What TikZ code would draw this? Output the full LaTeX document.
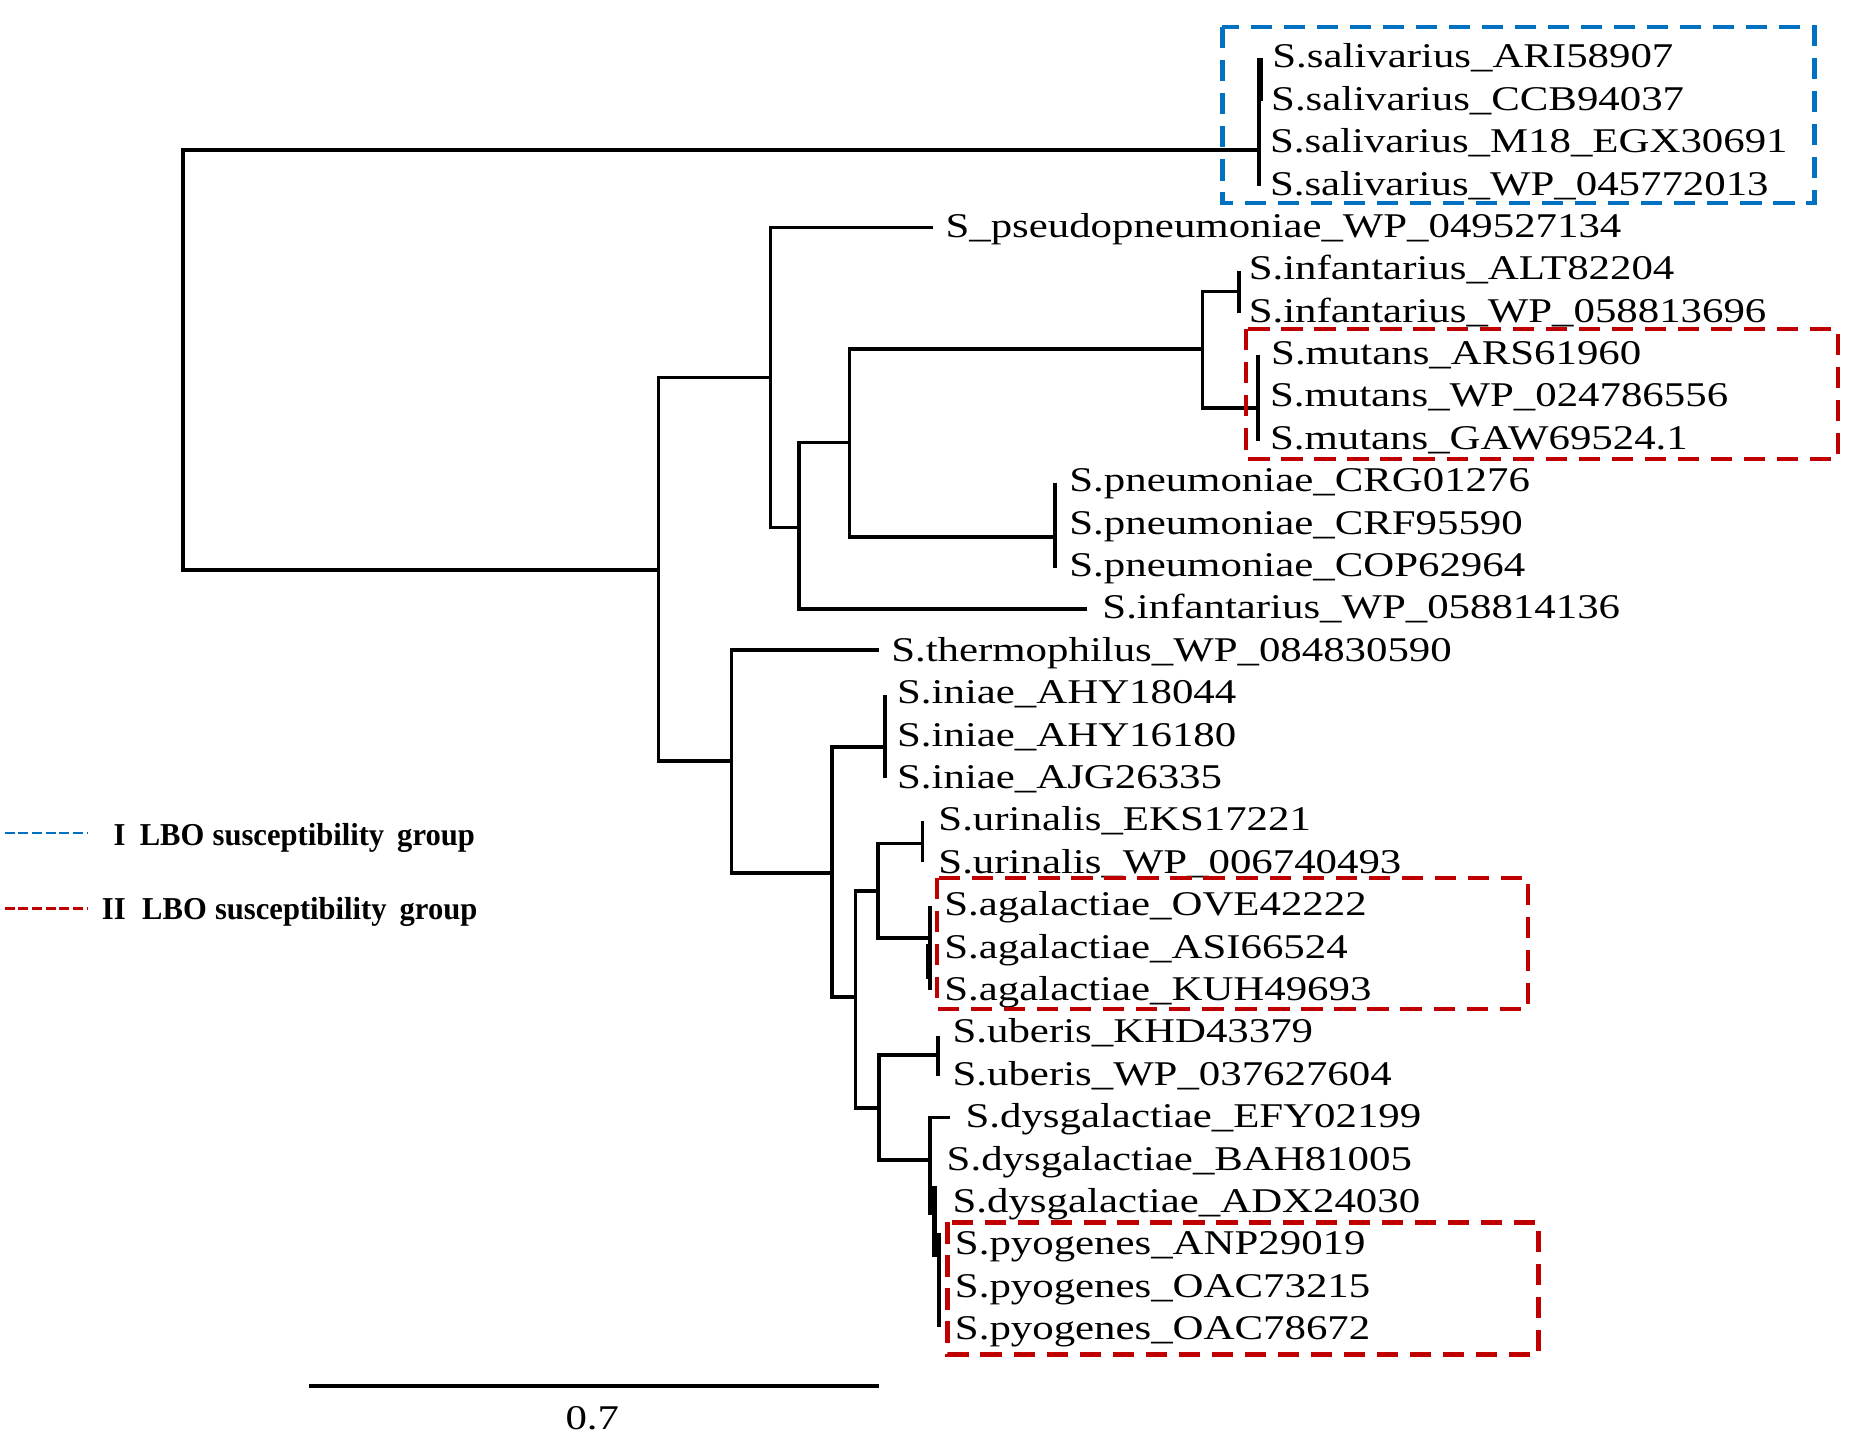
\documentclass[tikz,border=0pt]{standalone}
\usepackage{fontspec}
\newfontfamily\lblfont[FakeStretch=1.235]{Liberation Serif}
\newfontfamily\legfont[FakeStretch=0.96]{Liberation Serif}
\definecolor{grpblue}{RGB}{0,112,192}
\definecolor{grpred}{RGB}{192,0,0}
\begin{document}
\begin{tikzpicture}[x=0.5pt,y=-0.5pt,
  branch/.style={line width=1.5pt},
  leaf/.style={anchor=base west, inner sep=0pt, font=\lblfont\fontsize{14.7}{17}\selectfont},
  grpbox/.style={line width=1.9pt, dash pattern=on 9pt off 5pt},
  legline/.style={line width=1.2pt, dash pattern=on 4.2pt off 1.6pt},
  legtext/.style={anchor=base west, inner sep=0pt, font=\legfont\bfseries\fontsize{13.5}{15}\selectfont}]
\fill[white] (0,0) rectangle (1568,1218);
\useasboundingbox (0,0) rectangle (1568,1218);

% internal nodes and branch tips
\coordinate (root) at (155,305);
\coordinate (S) at (1067,127);
\coordinate (A) at (558,483);
\coordinate (B) at (653,320);
\coordinate (F) at (620,645);
\coordinate (P1) at (791,193);
\coordinate (C) at (677,447);
\coordinate (D) at (720,375);
\coordinate (T13) at (921,516);
\coordinate (E) at (1019,296);
\coordinate (PN) at (894,455);
\coordinate (INF) at (1050,247);
\coordinate (MUT) at (1066,346);
\coordinate (TH) at (745,551);
\coordinate (G) at (705,740);
\coordinate (INI) at (750,633);
\coordinate (H) at (725,845);
\coordinate (I) at (744,755);
\coordinate (J) at (745,939);
\coordinate (URI) at (782,715);
\coordinate (AGA) at (788,795);
\coordinate (UBE) at (795,894);
\coordinate (K) at (788,983);
\coordinate (EFY) at (805,947);
\coordinate (Kb) at (788,1030);

\draw[branch] (S) -| (root) |- (A);
\draw[branch] (B) -| (A) |- (F);
\draw[branch] (P1) -| (B) |- (C);
\draw[branch] (D) -| (C) |- (T13);
\draw[branch] (E) -| (D) |- (PN);
\draw[branch] (INF) -| (E) |- (MUT);
\draw[branch] (TH) -| (F) |- (G);
\draw[branch] (INI) -| (G) |- (H);
\draw[branch] (I) -| (H) |- (J);
\draw[branch] (URI) -| (I) |- (AGA);
\draw[branch] (UBE) -| (J) |- (K);
\draw[branch] (EFY) -| (K) -- (Kb);

% clade bars (near-zero branch lengths)
\draw[branch] (1067,49) -- (1067,158);
\draw[branch] (1069,49) -- (1069,86);
\draw[branch] (1050,230) -- (1050,265);
\draw[branch] (1066,301) -- (1066,374);
\draw[branch] (894,409) -- (894,481);
\draw[branch] (750,589) -- (750,659);
\draw[branch] (782,696) -- (782,731);
\draw[branch] (788,768) -- (788,839);
\draw[branch] (786,800) -- (786,830);
\draw[branch] (795,878) -- (795,912);
\draw[line width=1.9pt] (792,1005) -- (792,1065);
\draw[branch] (796,1045) -- (796,1125);

% leaf labels
\node[leaf] (l0)  at (1078,{57.5+35.93*0})  {S.salivarius\_ARI58907};
\node[leaf] (l1)  at (1077,{57.5+35.93*1})  {S.salivarius\_CCB94037};
\node[leaf] (l2)  at (1076,{57.5+35.93*2})  {S.salivarius\_M18\_EGX30691};
\node[leaf] (l3)  at (1076,{57.5+35.93*3})  {S.salivarius\_WP\_045772013};
\node[leaf] (l4)  at (801,{57.5+35.93*4})   {S\_pseudopneumoniae\_WP\_049527134};
\node[leaf] (l5)  at (1058,{57.5+35.93*5})  {S.infantarius\_ALT82204};
\node[leaf] (l6)  at (1058,{57.5+35.93*6})  {S.infantarius\_WP\_058813696};
\node[leaf] (l7)  at (1077,{57.5+35.93*7})  {S.mutans\_ARS61960};
\node[leaf] (l8)  at (1076,{57.5+35.93*8})  {S.mutans\_WP\_024786556};
\node[leaf] (l9)  at (1076,{57.5+35.93*9})  {S.mutans\_GAW69524.1};
\node[leaf] (l10) at (906,{57.5+35.93*10})  {S.pneumoniae\_CRG01276};
\node[leaf] (l11) at (906,{57.5+35.93*11})  {S.pneumoniae\_CRF95590};
\node[leaf] (l12) at (906,{57.5+35.93*12})  {S.pneumoniae\_COP62964};
\node[leaf] (l13) at (934,{57.5+35.93*13})  {S.infantarius\_WP\_058814136};
\node[leaf] (l14) at (755,{57.5+35.93*14})  {S.thermophilus\_WP\_084830590};
\node[leaf] (l15) at (760,{57.5+35.93*15})  {S.iniae\_AHY18044};
\node[leaf] (l16) at (760,{57.5+35.93*16})  {S.iniae\_AHY16180};
\node[leaf] (l17) at (760,{57.5+35.93*17})  {S.iniae\_AJG26335};
\node[leaf] (l18) at (795,{57.5+35.93*18})  {S.urinalis\_EKS17221};
\node[leaf] (l19) at (795,{57.5+35.93*19})  {S.urinalis\_WP\_006740493};
\node[leaf] (l20) at (800,{57.5+35.93*20})  {S.agalactiae\_OVE42222};
\node[leaf] (l21) at (800,{57.5+35.93*21})  {S.agalactiae\_ASI66524};
\node[leaf] (l22) at (800,{57.5+35.93*22})  {S.agalactiae\_KUH49693};
\node[leaf] (l23) at (807,{57.5+35.93*23})  {S.uberis\_KHD43379};
\node[leaf] (l24) at (807,{57.5+35.93*24})  {S.uberis\_WP\_037627604};
\node[leaf] (l25) at (818,{57.5+35.93*25})  {S.dysgalactiae\_EFY02199};
\node[leaf] (l26) at (802,{57.5+35.93*26})  {S.dysgalactiae\_BAH81005};
\node[leaf] (l27) at (807,{57.5+35.93*27})  {S.dysgalactiae\_ADX24030};
\node[leaf] (l28) at (809,{57.5+35.93*28})  {S.pyogenes\_ANP29019};
\node[leaf] (l29) at (809,{57.5+35.93*29})  {S.pyogenes\_OAC73215};
\node[leaf] (l30) at (809,{57.5+35.93*30})  {S.pyogenes\_OAC78672};

% group boxes
\draw[grpbox, grpblue] (1036,23) rectangle (1538,172);
\draw[grpbox, grpred] (1056,279) rectangle (1558,389);
\draw[grpbox, grpred] (794,744) rectangle (1295,855);
\draw[grpbox, grpred] (803,1036) rectangle (1304,1148);

% legend
\coordinate (lg1a) at (4,706);
\coordinate (lg1b) at (74,706);
\coordinate (lg2a) at (4,770);
\coordinate (lg2b) at (74,770);
\draw[legline, grpblue] (lg1a) -- (lg1b);
\draw[legline, grpred] (lg2a) -- (lg2b);
\node[legtext] (leg1) at (96,717) {I\hspace{6pt}LBO\hspace{3.5pt}susceptibility\hspace{5.5pt}group};
\node[legtext] (leg2) at (86,779) {II\hspace{7pt}LBO\hspace{3.5pt}susceptibility\hspace{5.5pt}group};

% scale bar
\coordinate (sb1) at (262,1175);
\coordinate (sb2) at (745,1175);
\draw[line width=1.6pt] (sb1) -- (sb2);
\node[anchor=base, inner sep=0pt, font=\lblfont\fontsize{14.7}{17}\selectfont] (sbl) at (502,1212) {0.7};
\end{tikzpicture}
\end{document}
